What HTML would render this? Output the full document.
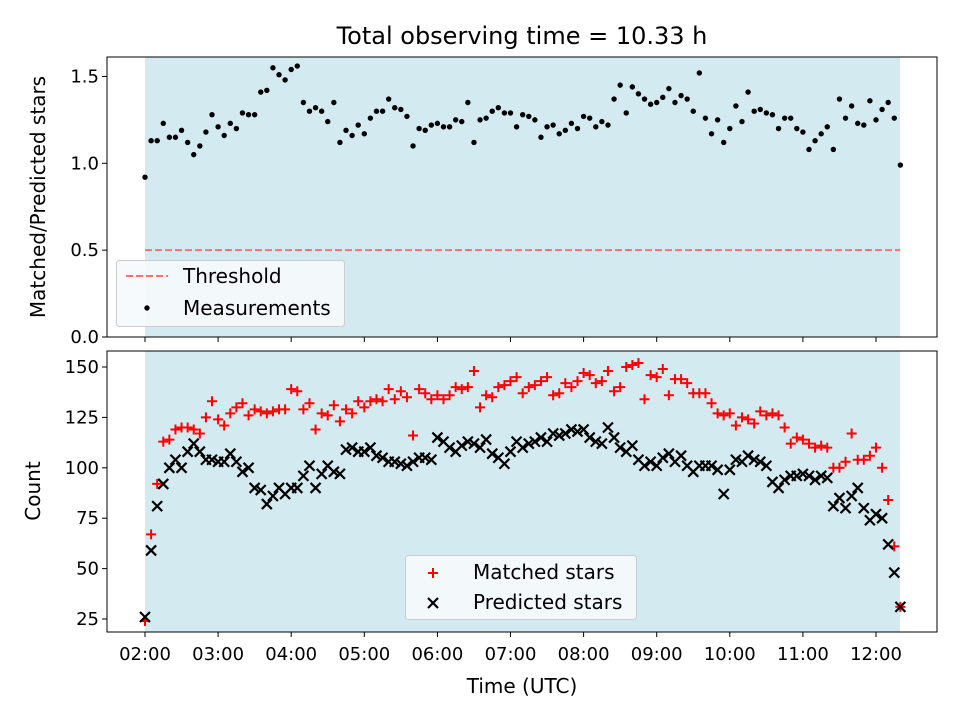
<!DOCTYPE html>
<html><head><meta charset="utf-8"><style>
html,body{margin:0;padding:0;background:#fff;}
svg text{font-family:"DejaVu Sans","Liberation Sans",sans-serif;fill:#000;}
</style></head><body>
<svg id="chart" width="960" height="720" xmlns="http://www.w3.org/2000/svg">
<rect width="960" height="720" fill="#fff"/>
<text x="522" y="44" font-size="24" text-anchor="middle">Total observing time = 10.33 h</text>
<g id="top"></g>
<g id="bot"></g>
<text x="522" y="693" font-size="20" text-anchor="middle">Time (UTC)</text>
<text transform="translate(45,197) rotate(-90)" font-size="20" text-anchor="middle">Matched/Predicted stars</text>
<text transform="translate(40,491) rotate(-90)" font-size="20" text-anchor="middle">Count</text>
</svg>
<script>
const ratioValues=[0.92,1.13,1.13,1.23,1.15,1.15,1.19,1.12,1.05,1.10,1.18,1.28,1.21,1.16,1.23,1.20,1.29,1.28,1.28,1.41,1.42,1.55,1.51,1.48,1.54,1.56,1.35,1.30,1.32,1.30,1.24,1.35,1.12,1.19,1.16,1.22,1.17,1.26,1.30,1.30,1.37,1.32,1.31,1.27,1.10,1.20,1.19,1.22,1.23,1.21,1.21,1.25,1.24,1.35,1.12,1.25,1.26,1.30,1.32,1.29,1.29,1.21,1.28,1.27,
1.25,1.15,1.21,1.22,1.17,1.19,1.23,1.20,1.27,1.26,1.21,1.24,1.22,1.37,1.45,1.29,1.44,1.40,1.37,1.34,1.35,1.38,1.43,1.35,1.39,1.37,1.30,1.52,1.26,1.17,1.25,1.12,1.20,1.33,1.24,1.41,1.30,1.31,1.29,1.28,1.20,1.26,1.26,1.20,1.18,1.08,1.13,1.17,1.21,1.08,1.37,1.26,1.33,1.23,1.22,1.36,1.25,1.31,1.35,1.26,0.99];
const matchedValues=[24,67,92,113,114,119,120,120,119,117,125,133,124,121,127,130,132,126,129,128,127,128,129,129,139,138,129,132,119,127,126,131,123,129,127,133,130,133,134,133,139,134,138,135,116,139,137,134,136,134,136,140,139,140,148,130,136,135,140,141,143,145,137,140,141,143,145,136,137,142,140,143,147,146,142,143,148,138,140,150,151,152,134,146,145,149,136,144,144,142,137,137,137,132,127,126,127,121,125,124,122,128,126,127,126,120,112,115,114,112,110,111,110,100,100,103,117,104,104,106,110,100,84,61,31];
const predictedValues=[26,59,81,92,100,104,100,108,112,108,104,104,103,103,107,103,98,100,90,89,82,86,90,87,90,90,96,101,90,97,101,98,97,109,110,108,108,110,106,105,103,103,102,101,103,105,105,104,115,113,110,108,111,113,112,110,114,107,105,102,108,113,110,112,113,115,113,117,116,117,119,118,119,115,113,112,120,115,110,108,111,104,101,103,101,105,107,103,106,101,98,101,101,101,99,87,99,104,103,106,104,103,101,93,90,94,96,96,97,96,94,96,95,81,85,80,86,90,80,74,77,75,62,48,31];
const hourTicks=[2,3,4,5,6,7,8,9,10,11,12];
const ratioTicks=[0,0.5,1.0,1.5];
const countTicks=[25,50,75,100,125,150];
const threshold=0.5, startHour=2, stepMin=5, totalHours=10.33;

const NS='http://www.w3.org/2000/svg';
function mk(tag,attrs,parent){const e=document.createElementNS(NS,tag);for(const k in attrs)e.setAttribute(k,attrs[k]);parent.appendChild(e);return e;}
const L=107,R=937;
const xS=h=>145+(h-startHour)*73.1;
const yT=v=>337-v*173.7;
const yB=v=>619-(v-25)*2.016;
const tAt=i=>startHour+i*stepMin/60;

function frame(g,top,bot,name){
  const s=mk('rect',{x:xS(startHour),y:top,width:xS(startHour+totalHours)-xS(startHour),height:bot-top,fill:'#d4eaf1'},g);
  
}
function border(g,top,bot,name){
  const b=mk('rect',{x:L,y:top,width:R-L,height:bot-top,fill:'none',stroke:'#000','stroke-width':1},g);
  
  hourTicks.forEach(h=>{const t=mk('line',{x1:xS(h),x2:xS(h),y1:bot,y2:bot+5,stroke:'#000'},g);
    });
}
const gt=document.getElementById('top');
frame(gt,57,337,'top');
const th=mk('line',{x1:xS(startHour),x2:xS(startHour+totalHours),y1:yT(threshold),y2:yT(threshold),stroke:'#ff7070','stroke-width':2,'stroke-dasharray':'7,3'},gt);

ratioValues.forEach((v,i)=>{const c=mk('circle',{cx:xS(tAt(i)),cy:yT(v),r:2.7,fill:'#000'},gt);
  });
border(gt,57,337,'top');
ratioTicks.forEach(v=>{const y=yT(v);mk('line',{x1:L-5,x2:L,y1:y,y2:y,stroke:'#000'},gt);
  const t=mk('text',{x:L-8,y:y+6,'font-size':18,'text-anchor':'end'},gt);t.textContent=v.toFixed(1);
  });
const lg=mk('g',{},gt);
mk('rect',{x:116.5,y:260.5,width:228,height:66,rx:3,fill:'#f6f9fc','fill-opacity':0.9,stroke:'#ccc'},lg);
mk('line',{x1:126,x2:168,y1:276,y2:276,stroke:'#ff7070','stroke-width':2,'stroke-dasharray':'7,3'},lg);
let t1=mk('text',{x:183,y:283,'font-size':20},lg);t1.textContent='Threshold';

mk('circle',{cx:147,cy:308,r:2.7,fill:'#000'},lg);
let t2=mk('text',{x:183,y:315,'font-size':20},lg);t2.textContent='Measurements';


const gb=document.getElementById('bot');
frame(gb,351,632,'bottom');
function plus(x,y,g){return mk('path',{d:`M${x-5},${y}H${x+5}M${x},${y-5}V${y+5}`,stroke:'#ff0000','stroke-width':2,fill:'none'},g);}
function cross(x,y,g){return mk('path',{d:`M${x-5},${y-5}L${x+5},${y+5}M${x-5},${y+5}L${x+5},${y-5}`,stroke:'#000','stroke-width':2.2,fill:'none'},g);}
matchedValues.forEach((v,i)=>{const p=plus(xS(tAt(i)),yB(v),gb);
  });
predictedValues.forEach((v,i)=>{const p=cross(xS(tAt(i)),yB(v),gb);
  });
border(gb,351,632,'bottom');
hourTicks.forEach(h=>{const t=mk('text',{x:xS(h),y:660,'font-size':18,'text-anchor':'middle'},gb);
  t.textContent=String(h).padStart(2,'0')+':00';
  });
countTicks.forEach(v=>{const y=yB(v);mk('line',{x1:L-5,x2:L,y1:y,y2:y,stroke:'#000'},gb);
  const t=mk('text',{x:L-8,y:y+6,'font-size':18,'text-anchor':'end'},gb);t.textContent=v;
  });
const lb=mk('g',{},gb);
mk('rect',{x:405.5,y:555.5,width:231,height:64,rx:3,fill:'#f6f9fc','fill-opacity':0.9,stroke:'#ccc'},lb);
plus(433,573,lb);
let t3=mk('text',{x:473,y:579,'font-size':20},lb);t3.textContent='Matched stars';

cross(433,603,lb);
let t4=mk('text',{x:473,y:609,'font-size':20},lb);t4.textContent='Predicted stars';

</script>
</body></html>
